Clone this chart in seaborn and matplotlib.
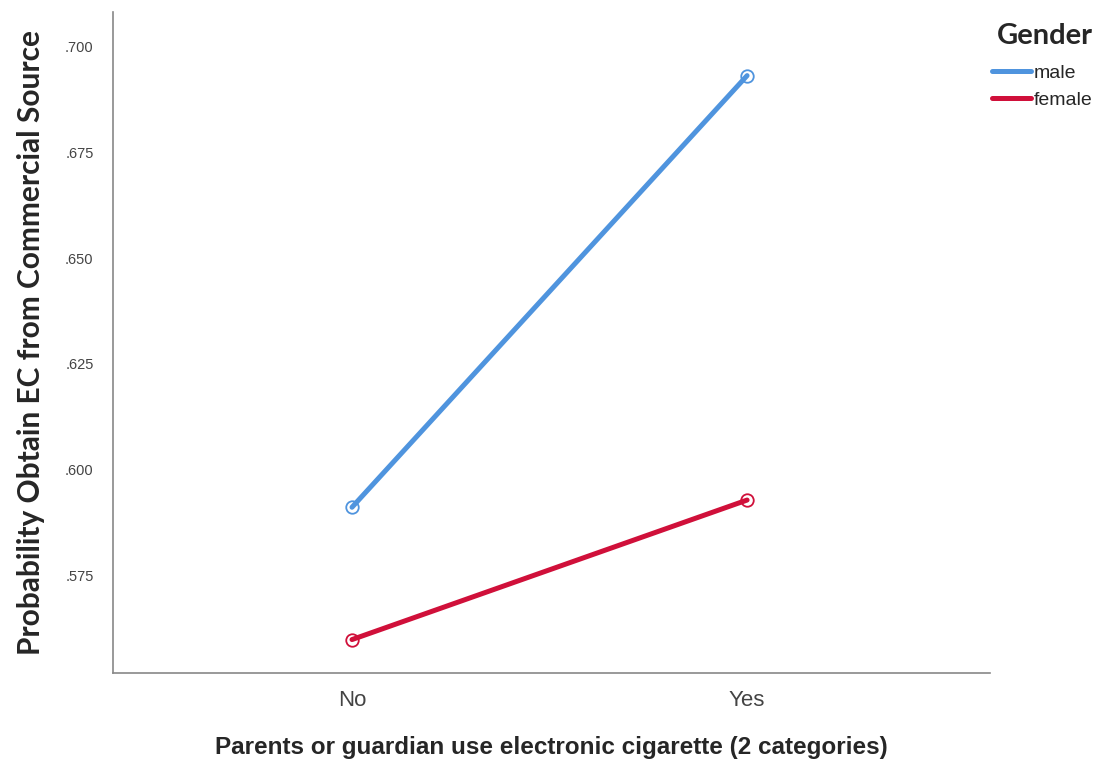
import matplotlib
matplotlib.use('Agg')
import matplotlib.pyplot as plt
from matplotlib.lines import Line2D
import pandas as pd
import seaborn as sns

# Данные
parents = ['No', 'Yes']
genders = ['male', 'female']
male_vals = [0.5911, 0.6932]
female_vals = [0.5598, 0.5928]
colors = {'male': '#4f94de', 'female': '#d0103a'}

df = pd.DataFrame({
    'parents': parents * 2,
    'gender': ['male'] * 2 + ['female'] * 2,
    'prob': male_vals + female_vals,
})

sns.set_style('white')
plt.rcParams['font.family'] = ['Liberation Sans', 'DejaVu Sans']

fig = plt.figure(figsize=(10.97, 7.63), dpi=100)
ax = fig.add_axes([0.103, 0.118, 0.7995, 0.866])

sns.lineplot(data=df, x='parents', y='prob', hue='gender', hue_order=genders,
             palette=colors, marker='o', markersize=9, linewidth=3.6,
             legend=False, ax=ax)
for line in ax.get_lines():
    line.set_markerfacecolor('none')
    line.set_markeredgecolor(line.get_color())
    line.set_markeredgewidth(1.3)

ax.set_xlim(-0.605, 1.615)
ax.set_ylim(0.5519, 0.7082)
ax.set_yticks([0.575, 0.600, 0.625, 0.650, 0.675, 0.700])
ax.set_yticklabels(['.575', '.600', '.625', '.650', '.675', '.700'],
                   fontsize=10.5, color='#444444')
ax.tick_params(axis='x', labelsize=16, colors='#444444', pad=12, length=0)
ax.tick_params(axis='y', pad=14, length=0)

for s in ['top', 'right']:
    ax.spines[s].set_visible(False)
for s in ['left', 'bottom']:
    ax.spines[s].set_color('#888888')
    ax.spines[s].set_linewidth(1.2)

ax.set_xlabel('Parents or guardian use electronic cigarette (2 categories)',
              fontsize=17.5, fontweight='bold', labelpad=18)
ax.set_ylabel('Probability Obtain EC from Commercial Source',
              fontsize=21.5, fontweight='bold', family='Lato', labelpad=14)

handles = [Line2D([], [], color=colors[g], linewidth=3.6) for g in genders]
leg = fig.legend(handles, genders, title='Gender', loc='upper right',
                 bbox_to_anchor=(1.012, 0.993), frameon=False, fontsize=14,
                 handlelength=2.0, handletextpad=0.15, labelspacing=0.5,
                 title_fontproperties={'weight': 'bold', 'size': 21,
                                       'family': 'Lato'})
leg._legend_box.align = 'right'
leg._legend_box.sep = 11

fig.savefig('out.png', dpi=100)
